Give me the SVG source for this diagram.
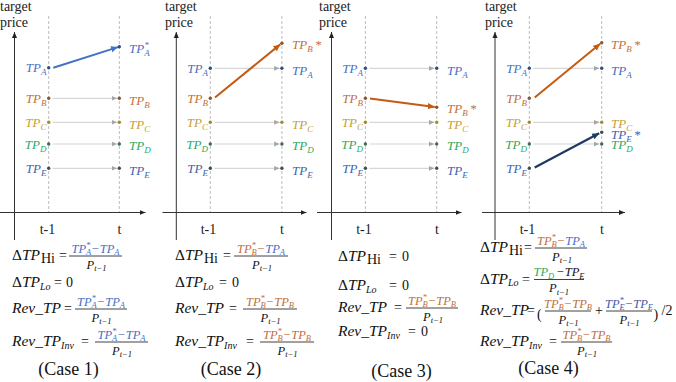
<svg xmlns="http://www.w3.org/2000/svg" width="676" height="382" viewBox="0 0 676 382">
<style>
.ax{stroke:#333;stroke-width:1;fill:none}
.dash{stroke:#BDBDBD;stroke-width:1;stroke-dasharray:3 2;fill:none}
.g{stroke:#D6D6D6;stroke-width:1.2;fill:none;marker-end:url(#ga)}
.t{font-family:"Liberation Serif",serif;font-size:14px;fill:#222}
.tm{font-family:"Liberation Serif",serif;font-size:14px;fill:#222;text-anchor:middle}
.case{font-family:"Liberation Serif",serif;font-size:18px;fill:#111;text-anchor:middle}
.lbl{font-family:"Liberation Serif",serif;font-style:italic;font-size:13px}
.le{text-anchor:end}
.ls{font-size:9px}
.m{font-family:"Liberation Serif",serif;font-style:italic;font-size:15.5px;fill:#111}
.up{font-style:normal}
.ms{font-size:10px}
.r{font-family:"Liberation Serif",serif;font-size:14px;fill:#111}
.n{font-family:"Liberation Serif",serif;font-style:italic;font-size:12.5px;fill:#111;text-anchor:middle}
.s{font-size:8.5px}
.bar{stroke:#111;stroke-width:0.8}
.cA{fill:#4A6FBF}.cB{fill:#C4703A}.cC{fill:#C9A030}.cD{fill:#2EAA5C}.cE{fill:#4262AE}
.fA{fill:#4472C4}.fB{fill:#C0703A}.fE{fill:#3F5AA8}.fD{fill:#2EAA5C}
.dA{fill:#2F4D85}.dB{fill:#8B5530}.dC{fill:#A48A28}.dD{fill:#3E6B4C}.dE{fill:#3C5248}
</style>
<defs>
<marker id="ga" markerUnits="userSpaceOnUse" markerWidth="6" markerHeight="6" refX="5.5" refY="3" orient="auto"><path d="M0,0.6 L5.5,3 L0,5.4z" fill="#A6A6A6"/></marker>
<marker id="ka" markerUnits="userSpaceOnUse" markerWidth="7" markerHeight="6" refX="6" refY="3" orient="auto"><path d="M0,0.5 L6,3 L0,5.5z" fill="#222"/></marker>
<marker id="oa" markerUnits="userSpaceOnUse" markerWidth="8" markerHeight="8" refX="7" refY="4" orient="auto"><path d="M0,0.8 L7,4 L0,7.2z" fill="#C55A11"/></marker>
<marker id="ba" markerUnits="userSpaceOnUse" markerWidth="8" markerHeight="8" refX="7" refY="4" orient="auto"><path d="M0,0.8 L7,4 L0,7.2z" fill="#4472C4"/></marker>
<marker id="na" markerUnits="userSpaceOnUse" markerWidth="8" markerHeight="8" refX="7" refY="4" orient="auto"><path d="M0,0.8 L7,4 L0,7.2z" fill="#1F3864"/></marker>
</defs>

<!-- axes and guides -->
<g id="axes">
<line class="ax" x1="14.5" y1="240" x2="14.5" y2="32" marker-end="url(#ka)"/>
<line class="ax" x1="0" y1="212.5" x2="145.5" y2="212.5" marker-end="url(#ka)"/>
<line class="ax" x1="176.3" y1="240" x2="176.3" y2="32" marker-end="url(#ka)"/>
<line class="ax" x1="162.5" y1="212.5" x2="306.5" y2="212.5" marker-end="url(#ka)"/>
<line class="ax" x1="331.5" y1="240" x2="331.5" y2="32" marker-end="url(#ka)"/>
<line class="ax" x1="317" y1="212.5" x2="461.5" y2="212.5" marker-end="url(#ka)"/>
<line class="ax" x1="495" y1="240" x2="495" y2="32" marker-end="url(#ka)"/>
<line class="ax" x1="482" y1="212.5" x2="625" y2="212.5" marker-end="url(#ka)"/>
<line class="dash" x1="48.7" y1="16" x2="48.7" y2="212"/>
<line class="dash" x1="119.3" y1="16" x2="119.3" y2="212"/>
<line class="dash" x1="210.3" y1="16" x2="210.3" y2="212"/>
<line class="dash" x1="281.9" y1="16" x2="281.9" y2="212"/>
<line class="dash" x1="365.4" y1="16" x2="365.4" y2="212"/>
<line class="dash" x1="436.7" y1="16" x2="436.7" y2="212"/>
<line class="dash" x1="529.3" y1="16" x2="529.3" y2="212"/>
<line class="dash" x1="601.7" y1="16" x2="601.7" y2="212"/>
</g>
<g id="axis-text">
<text class="t" x="0" y="11">target</text><text class="t" x="0" y="27">price</text>
<text class="t" x="165" y="11">target</text><text class="t" x="165" y="27">price</text>
<text class="t" x="319" y="11">target</text><text class="t" x="319" y="27">price</text>
<text class="t" x="485" y="11">target</text><text class="t" x="485" y="27">price</text>
<text class="tm" x="47.5" y="234">t-1</text><text class="tm" x="119.5" y="234">t</text>
<text class="tm" x="208.5" y="234">t-1</text><text class="tm" x="282" y="234">t</text>
<text class="tm" x="364" y="234">t-1</text><text class="tm" x="437" y="234">t</text>
<text class="tm" x="527.5" y="234">t-1</text><text class="tm" x="602" y="234">t</text>
</g>

<!-- connectors -->
<g id="connectors">
<line class="g" x1="52.7" y1="98.3" x2="117" y2="98.3"/>
<line class="g" x1="52.7" y1="122.3" x2="117" y2="122.3"/>
<line class="g" x1="52.7" y1="144" x2="117" y2="144"/>
<line class="g" x1="52.7" y1="168.3" x2="117" y2="168.3"/>
<line x1="53.3" y1="67.7" x2="118" y2="47.1" stroke="#4472C4" stroke-width="2" marker-end="url(#ba)"/>

<line class="g" x1="214.3" y1="68.3" x2="279.6" y2="68.3"/>
<line class="g" x1="214.3" y1="122.3" x2="279.6" y2="122.3"/>
<line class="g" x1="214.3" y1="144" x2="279.6" y2="144"/>
<line class="g" x1="214.3" y1="168.3" x2="279.6" y2="168.3"/>
<line x1="215" y1="97.5" x2="280.3" y2="44.4" stroke="#C55A11" stroke-width="2" marker-end="url(#oa)"/>

<line class="g" x1="369.4" y1="68.3" x2="434.4" y2="68.3"/>
<line class="g" x1="369.4" y1="122.3" x2="434.4" y2="122.3"/>
<line class="g" x1="369.4" y1="144" x2="434.4" y2="144"/>
<line class="g" x1="369.4" y1="168.3" x2="434.4" y2="168.3"/>
<line x1="370" y1="98.5" x2="434.8" y2="107.1" stroke="#C55A11" stroke-width="2" marker-end="url(#oa)"/>

<line class="g" x1="533.3" y1="68.3" x2="599.4" y2="68.3"/>
<line class="g" x1="533.3" y1="122.3" x2="599.4" y2="122.3"/>
<line class="g" x1="533.3" y1="144" x2="599.4" y2="144"/>
<line x1="534.7" y1="97.5" x2="600.2" y2="43.8" stroke="#C55A11" stroke-width="2" marker-end="url(#oa)"/>
<line x1="534.7" y1="167.5" x2="599.2" y2="133.2" stroke="#1F3864" stroke-width="2.2" marker-end="url(#na)"/>
</g>

<!-- Panel 1 nodes -->
<g id="c1-A0"><circle class="dA" cx="48.7" cy="67.7" r="1.7"/><text class="lbl le cA" x="46.5" y="72">TP<tspan class="ls" dy="3">A</tspan></text></g>
<g id="c1-B0"><circle class="dB" cx="48.7" cy="98.3" r="1.7"/><text class="lbl le cB" x="46.5" y="102.8">TP<tspan class="ls" dy="3">B</tspan></text></g>
<g id="c1-C0"><circle class="dC" cx="48.7" cy="122.3" r="1.7"/><text class="lbl le cC" x="46.5" y="126.8">TP<tspan class="ls" dy="3">C</tspan></text></g>
<g id="c1-D0"><circle class="dD" cx="48.7" cy="144" r="1.7"/><text class="lbl le cD" x="46.5" y="148.5">TP<tspan class="ls" dy="3">D</tspan></text></g>
<g id="c1-E0"><circle class="dE" cx="48.7" cy="168.3" r="1.7"/><text class="lbl le cE" x="46.5" y="172.8">TP<tspan class="ls" dy="3">E</tspan></text></g>
<g id="c1-A1"><circle class="dA" cx="119.3" cy="46.7" r="1.7"/><text class="lbl cA" x="129" y="53">TP<tspan class="ls" dy="-5">*</tspan><tspan class="ls" dx="-4.5" dy="8">A</tspan></text></g>
<g id="c1-B1"><circle class="dB" cx="119.3" cy="98.3" r="1.7"/><text class="lbl cB" x="129" y="104.5">TP<tspan class="ls" dy="3">B</tspan></text></g>
<g id="c1-C1"><circle class="dC" cx="119.3" cy="122.3" r="1.7"/><text class="lbl cC" x="129" y="128.5">TP<tspan class="ls" dy="3">C</tspan></text></g>
<g id="c1-D1"><circle class="dD" cx="119.3" cy="144" r="1.7"/><text class="lbl cD" x="129" y="150">TP<tspan class="ls" dy="3">D</tspan></text></g>
<g id="c1-E1"><circle class="dE" cx="119.3" cy="168.3" r="1.7"/><text class="lbl cE" x="129" y="174.5">TP<tspan class="ls" dy="3">E</tspan></text></g>

<!-- Panel 2 nodes -->
<g id="c2-A0"><circle class="dA" cx="210.3" cy="68.3" r="1.7"/><text class="lbl le cA" x="208" y="72.8">TP<tspan class="ls" dy="3">A</tspan></text></g>
<g id="c2-B0"><circle class="dB" cx="210.3" cy="98.3" r="1.7"/><text class="lbl le cB" x="208" y="102.8">TP<tspan class="ls" dy="3">B</tspan></text></g>
<g id="c2-C0"><circle class="dC" cx="210.3" cy="122.3" r="1.7"/><text class="lbl le cC" x="208" y="126.8">TP<tspan class="ls" dy="3">C</tspan></text></g>
<g id="c2-D0"><circle class="dD" cx="210.3" cy="144" r="1.7"/><text class="lbl le cD" x="208" y="148.5">TP<tspan class="ls" dy="3">D</tspan></text></g>
<g id="c2-E0"><circle class="dE" cx="210.3" cy="168.3" r="1.7"/><text class="lbl le cE" x="208" y="172.8">TP<tspan class="ls" dy="3">E</tspan></text></g>
<g id="c2-B1"><circle class="dB" cx="281.9" cy="43.3" r="1.7"/><text class="lbl cB" x="292" y="48.5">TP<tspan class="ls" dy="3">B</tspan><tspan dx="2" dy="-3">*</tspan></text></g>
<g id="c2-A1"><circle class="dA" cx="281.9" cy="68.3" r="1.7"/><text class="lbl cA" x="292" y="74.5">TP<tspan class="ls" dy="3">A</tspan></text></g>
<g id="c2-C1"><circle class="dC" cx="281.9" cy="122.3" r="1.7"/><text class="lbl cC" x="292" y="128.5">TP<tspan class="ls" dy="3">C</tspan></text></g>
<g id="c2-D1"><circle class="dD" cx="281.9" cy="144" r="1.7"/><text class="lbl cD" x="292" y="150">TP<tspan class="ls" dy="3">D</tspan></text></g>
<g id="c2-E1"><circle class="dE" cx="281.9" cy="168.3" r="1.7"/><text class="lbl cE" x="292" y="174.5">TP<tspan class="ls" dy="3">E</tspan></text></g>

<!-- Panel 3 nodes -->
<g id="c3-A0"><circle class="dA" cx="365.4" cy="68.3" r="1.7"/><text class="lbl le cA" x="363" y="72.8">TP<tspan class="ls" dy="3">A</tspan></text></g>
<g id="c3-B0"><circle class="dB" cx="365.4" cy="98.3" r="1.7"/><text class="lbl le cB" x="363" y="102.8">TP<tspan class="ls" dy="3">B</tspan></text></g>
<g id="c3-C0"><circle class="dC" cx="365.4" cy="122.3" r="1.7"/><text class="lbl le cC" x="363" y="126.8">TP<tspan class="ls" dy="3">C</tspan></text></g>
<g id="c3-D0"><circle class="dD" cx="365.4" cy="144" r="1.7"/><text class="lbl le cD" x="363" y="148.5">TP<tspan class="ls" dy="3">D</tspan></text></g>
<g id="c3-E0"><circle class="dE" cx="365.4" cy="168.3" r="1.7"/><text class="lbl le cE" x="363" y="172.8">TP<tspan class="ls" dy="3">E</tspan></text></g>
<g id="c3-A1"><circle class="dA" cx="436.7" cy="68.3" r="1.7"/><text class="lbl cA" x="447" y="74.5">TP<tspan class="ls" dy="3">A</tspan></text></g>
<g id="c3-B1"><circle class="dB" cx="436.7" cy="107.3" r="1.7"/><text class="lbl cB" x="447" y="112.5">TP<tspan class="ls" dy="3">B</tspan><tspan dx="2" dy="-3">*</tspan></text></g>
<g id="c3-C1"><circle class="dC" cx="436.7" cy="122.3" r="1.7"/><text class="lbl cC" x="447" y="128.8">TP<tspan class="ls" dy="3">C</tspan></text></g>
<g id="c3-D1"><circle class="dD" cx="436.7" cy="144" r="1.7"/><text class="lbl cD" x="447" y="150">TP<tspan class="ls" dy="3">D</tspan></text></g>
<g id="c3-E1"><circle class="dE" cx="436.7" cy="168.3" r="1.7"/><text class="lbl cE" x="447" y="174.5">TP<tspan class="ls" dy="3">E</tspan></text></g>

<!-- Panel 4 nodes -->
<g id="c4-A0"><circle class="dA" cx="529.3" cy="68.3" r="1.7"/><text class="lbl le cA" x="527" y="72.8">TP<tspan class="ls" dy="3">A</tspan></text></g>
<g id="c4-B0"><circle class="dB" cx="529.3" cy="98.3" r="1.7"/><text class="lbl le cB" x="527" y="102.8">TP<tspan class="ls" dy="3">B</tspan></text></g>
<g id="c4-C0"><circle class="dC" cx="529.3" cy="122.3" r="1.7"/><text class="lbl le cC" x="527" y="126.8">TP<tspan class="ls" dy="3">C</tspan></text></g>
<g id="c4-D0"><circle class="dD" cx="529.3" cy="144" r="1.7"/><text class="lbl le cD" x="527" y="148.5">TP<tspan class="ls" dy="3">D</tspan></text></g>
<g id="c4-E0"><circle class="dE" cx="529.3" cy="168.3" r="1.7"/><text class="lbl le cE" x="527" y="172.8">TP<tspan class="ls" dy="3">E</tspan></text></g>
<g id="c4-B1"><circle class="dB" cx="601.7" cy="42.7" r="1.7"/><text class="lbl cB" x="611" y="48.5">TP<tspan class="ls" dy="3">B</tspan><tspan dx="2" dy="-3">*</tspan></text></g>
<g id="c4-A1"><circle class="dA" cx="601.7" cy="68.3" r="1.7"/><text class="lbl cA" x="611" y="74.5">TP<tspan class="ls" dy="3">A</tspan></text></g>
<g id="c4-C1"><circle class="dC" cx="601.7" cy="122.3" r="1.7"/><text class="lbl cC" x="611" y="128">TP<tspan class="ls" dy="3">C</tspan></text></g>
<g id="c4-E1"><circle class="dE" cx="601.7" cy="132.3" r="1.7"/><text class="lbl cE" x="611" y="138.5">TP<tspan class="ls" dy="3">E</tspan><tspan dx="2" dy="-3">*</tspan></text></g>
<g id="c4-D1"><circle class="dD" cx="601.7" cy="144" r="1.7"/><text class="lbl cD" x="611" y="149">TP<tspan class="ls" dy="3">D</tspan></text></g>

<!-- Formulas case 1 -->
<g id="f1">
<text class="m" x="12" y="260"><tspan class="up">Δ</tspan>TP</text>
<text class="r" x="41" y="263" font-size="11">Hi</text>
<text class="r" x="59" y="260">=</text>
<line class="bar" x1="69" y1="256" x2="122" y2="256"/>
<text class="n fA" x="95.5" y="252.5">TP<tspan class="s" dy="-4.5">*</tspan><tspan class="s" dx="-4.25" dy="7">A</tspan><tspan dy="-2.5">−TP</tspan><tspan class="s" dy="2.5">A</tspan></text>
<text class="n" x="96.5" y="268.5">P<tspan class="s" dy="2.5">t−1</tspan></text>

<text class="m" x="12" y="287"><tspan class="up">Δ</tspan>TP<tspan class="ms" dy="2.5">Lo</tspan></text>
<text class="r" x="54" y="287">=</text><text class="r" x="66" y="287" font-size="15">0</text>

<text class="m" x="12" y="313">Rev_TP</text>
<text class="r" x="64" y="313">=</text>
<line class="bar" x1="75" y1="309" x2="127" y2="309"/>
<text class="n fA" x="101" y="305.5">TP<tspan class="s" dy="-4.5">*</tspan><tspan class="s" dx="-4.25" dy="7">A</tspan><tspan dy="-2.5">−TP</tspan><tspan class="s" dy="2.5">A</tspan></text>
<text class="n" x="101.5" y="321.5">P<tspan class="s" dy="2.5">t−1</tspan></text>

<text class="m" x="12" y="346">Rev_TP<tspan class="ms" dy="2.5">Inv</tspan></text>
<text class="r" x="81" y="346">=</text>
<line class="bar" x1="95" y1="342" x2="148" y2="342"/>
<text class="n fA" x="121.5" y="338.5">TP<tspan class="s" dy="-4.5">*</tspan><tspan class="s" dx="-4.25" dy="7">A</tspan><tspan dy="-2.5">−TP</tspan><tspan class="s" dy="2.5">A</tspan></text>
<text class="n" x="122" y="354.5">P<tspan class="s" dy="2.5">t−1</tspan></text>
<text class="case" x="68.5" y="375">(Case 1)</text>
</g>

<!-- Formulas case 2 -->
<g id="f2">
<text class="m" x="175" y="260"><tspan class="up">Δ</tspan>TP</text>
<text class="r" x="204" y="263" font-size="11">Hi</text>
<text class="r" x="223" y="260">=</text>
<line class="bar" x1="234" y1="256" x2="288" y2="256"/>
<text class="n fB" x="261" y="252.5">TP<tspan class="s" dy="-4.5">*</tspan><tspan class="s" dx="-4.25" dy="7">B</tspan><tspan dy="-2.5">−</tspan><tspan class="fA">TP</tspan><tspan class="s fA" dy="2.5">A</tspan></text>
<text class="n" x="262" y="268.5">P<tspan class="s" dy="2.5">t−1</tspan></text>

<text class="m" x="175" y="287"><tspan class="up">Δ</tspan>TP<tspan class="ms" dy="2.5">Lo</tspan></text>
<text class="r" x="219" y="287">=</text><text class="r" x="232" y="287" font-size="15">0</text>

<text class="m" x="175" y="313">Rev_TP</text>
<text class="r" x="229" y="313">=</text>
<line class="bar" x1="243" y1="309" x2="297" y2="309"/>
<text class="n fB" x="270" y="305.5">TP<tspan class="s" dy="-4.5">*</tspan><tspan class="s" dx="-4.25" dy="7">B</tspan><tspan dy="-2.5">−TP</tspan><tspan class="s" dy="2.5">B</tspan></text>
<text class="n" x="270.5" y="321.5">P<tspan class="s" dy="2.5">t−1</tspan></text>

<text class="m" x="175" y="346">Rev_TP<tspan class="ms" dy="2.5">Inv</tspan></text>
<text class="r" x="246" y="346">=</text>
<line class="bar" x1="260" y1="342" x2="314" y2="342"/>
<text class="n fB" x="287" y="338.5">TP<tspan class="s" dy="-4.5">*</tspan><tspan class="s" dx="-4.25" dy="7">B</tspan><tspan dy="-2.5">−TP</tspan><tspan class="s" dy="2.5">B</tspan></text>
<text class="n" x="287.5" y="354.5">P<tspan class="s" dy="2.5">t−1</tspan></text>
<text class="case" x="231" y="375">(Case 2)</text>
</g>

<!-- Formulas case 3 -->
<g id="f3">
<text class="m" x="338" y="261"><tspan class="up">Δ</tspan>TP</text>
<text class="r" x="367" y="264" font-size="11">Hi</text>
<text class="r" x="389" y="261">=</text><text class="r" x="402" y="261" font-size="15">0</text>

<text class="m" x="338" y="290"><tspan class="up">Δ</tspan>TP<tspan class="ms" dy="2.5">Lo</tspan></text>
<text class="r" x="389" y="290">=</text><text class="r" x="402" y="290" font-size="15">0</text>

<text class="m" x="338" y="312">Rev_TP</text>
<text class="r" x="394" y="312">=</text>
<line class="bar" x1="406" y1="308" x2="458" y2="308"/>
<text class="n fB" x="432" y="304.5">TP<tspan class="s" dy="-4.5">*</tspan><tspan class="s" dx="-4.25" dy="7">B</tspan><tspan dy="-2.5">−TP</tspan><tspan class="s" dy="2.5">B</tspan></text>
<text class="n" x="433" y="320.5">P<tspan class="s" dy="2.5">t−1</tspan></text>

<text class="m" x="338" y="336">Rev_TP<tspan class="ms" dy="2.5">Inv</tspan></text>
<text class="r" x="408" y="336">=</text><text class="r" x="421" y="336" font-size="15">0</text>
<text class="case" x="401.5" y="377">(Case 3)</text>
</g>

<!-- Formulas case 4 -->
<g id="f4">
<text class="m" x="480" y="252"><tspan class="up">Δ</tspan>TP</text>
<text class="r" x="509" y="255" font-size="11">Hi</text>
<text class="r" x="524" y="252">=</text>
<line class="bar" x1="535" y1="248" x2="587" y2="248"/>
<text class="n fB" x="561" y="244.5">TP<tspan class="s" dy="-4.5">*</tspan><tspan class="s" dx="-4.25" dy="7">B</tspan><tspan dy="-2.5">−</tspan><tspan class="fA">TP</tspan><tspan class="s fA" dy="2.5">A</tspan></text>
<text class="n" x="562" y="260.5">P<tspan class="s" dy="2.5">t−1</tspan></text>

<text class="m" x="480" y="283.5"><tspan class="up">Δ</tspan>TP<tspan class="ms" dy="2.5">Lo</tspan></text>
<text class="r" x="522" y="283.5">=</text>
<line class="bar" x1="534" y1="279.5" x2="584" y2="279.5"/>
<text class="n" x="559" y="276"><tspan class="fD">TP</tspan><tspan class="s fD" dy="2.5">D</tspan><tspan dx="2" dy="-2.5">−TP</tspan><tspan class="s" dy="2.5">E</tspan></text>
<text class="n" x="559" y="292">P<tspan class="s" dy="2.5">t−1</tspan></text>

<text class="m" x="480" y="315" font-size="14">Rev_TP</text>
<text class="r" x="527" y="315">=</text>
<text class="r" x="537" y="318.5" font-size="22">(</text>
<line class="bar" x1="545" y1="311" x2="591" y2="311"/>
<text class="n fB" x="568" y="307.5">TP<tspan class="s" dy="-4.5">*</tspan><tspan class="s" dx="-4.25" dy="7">B</tspan><tspan dy="-2.5">−TP</tspan><tspan class="s" dy="2.5">B</tspan></text>
<text class="n" x="568.5" y="323.5">P<tspan class="s" dy="2.5">t−1</tspan></text>
<text class="r" x="595" y="315">+</text>
<line class="bar" x1="606" y1="311" x2="652" y2="311"/>
<text class="n fE" x="629" y="307.5">TP<tspan class="s" dy="-4.5">*</tspan><tspan class="s" dx="-4.25" dy="7">E</tspan><tspan dy="-2.5">−TP</tspan><tspan class="s" dy="2.5">E</tspan></text>
<text class="n" x="629.5" y="323.5">P<tspan class="s" dy="2.5">t−1</tspan></text>
<text class="r" x="653.5" y="318.5" font-size="22">)</text>
<text class="r" x="661.5" y="315">/2</text>

<text class="m" x="480" y="346">Rev_TP<tspan class="ms" dy="2.5">Inv</tspan></text>
<text class="r" x="549" y="346">=</text>
<line class="bar" x1="561" y1="342" x2="612" y2="342"/>
<text class="n fB" x="586.5" y="338.5">TP<tspan class="s" dy="-4.5">*</tspan><tspan class="s" dx="-4.25" dy="7">B</tspan><tspan dy="-2.5">−TP</tspan><tspan class="s" dy="2.5">B</tspan></text>
<text class="n" x="587" y="354.5">P<tspan class="s" dy="2.5">t−1</tspan></text>
<text class="case" x="548.5" y="374">(Case 4)</text>
</g>
</svg>
